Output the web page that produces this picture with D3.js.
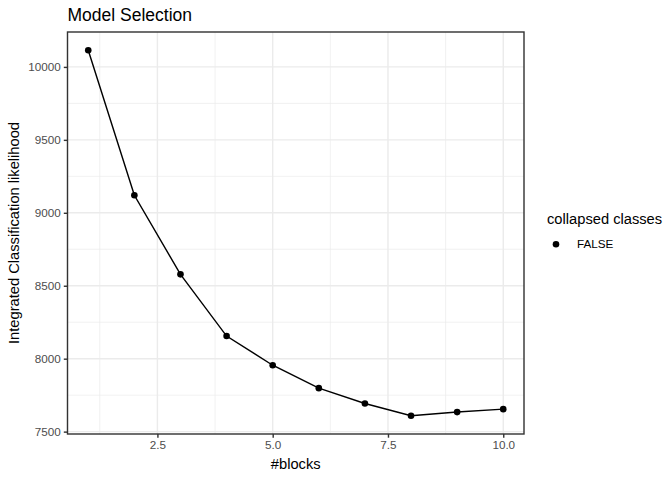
<!DOCTYPE html>
<html><head><meta charset="utf-8">
<script src="https://cdn.jsdelivr.net/npm/d3@7"></script>
<style>body{margin:0;background:#fff}text{font-family:"Liberation Sans",Arial,sans-serif}</style>
</head><body><svg id="c" width="672" height="480"></svg>
<script>
const blocks = [1,2,3,4,5,6,7,8,9,10];
const icl = [10114,9120,8578,8155,7955,7798,7693,7609,7634,7654];
const xTicks = [2.5,5.0,7.5,10.0];
const yTicks = [7500,8000,8500,9000,9500,10000];
const xMinor = [1.25,3.75,6.25,8.75];
const yMinor = [7750,8250,8750,9250,9750];
const legendLabels = ["FALSE"];

const svg = d3.select("#c");
const L=67.5, R=524, T=32, B=434;
const xr = d3.extent(blocks), yr = d3.extent(icl);
const xe=(xr[1]-xr[0])*0.05, ye=(yr[1]-yr[0])*0.05;
const x = d3.scaleLinear().domain([xr[0]-xe, xr[1]+xe]).range([L,R]);
const y = d3.scaleLinear().domain([yr[0]-ye, yr[1]+ye]).range([B,T]);

const g = svg.append("g");
// minor grid
g.selectAll(".xm").data(xMinor).enter().append("line")
 .attr("x1",d=>x(d)).attr("x2",d=>x(d)).attr("y1",T).attr("y2",B)
 .attr("stroke","#EBEBEB").attr("stroke-width",0.71);
g.selectAll(".ym").data(yMinor).enter().append("line")
 .attr("y1",d=>y(d)).attr("y2",d=>y(d)).attr("x1",L).attr("x2",R)
 .attr("stroke","#EBEBEB").attr("stroke-width",0.71);
// major grid
g.selectAll(".xM").data(xTicks).enter().append("line")
 .attr("x1",d=>x(d)).attr("x2",d=>x(d)).attr("y1",T).attr("y2",B)
 .attr("stroke","#EBEBEB").attr("stroke-width",1.42);
g.selectAll(".yM").data(yTicks).enter().append("line")
 .attr("y1",d=>y(d)).attr("y2",d=>y(d)).attr("x1",L).attr("x2",R)
 .attr("stroke","#EBEBEB").attr("stroke-width",1.42);

// line + points
const line = d3.line().x((d,i)=>x(blocks[i])).y(d=>y(d));
g.append("path").datum(icl).attr("d",line).attr("fill","none").attr("stroke","#000").attr("stroke-width",1.42);
g.selectAll(".pt").data(icl).enter().append("circle")
 .attr("cx",(d,i)=>x(blocks[i])).attr("cy",d=>y(d)).attr("r",3.3).attr("fill","#000");

// border
g.append("rect").attr("x",L).attr("y",T).attr("width",R-L).attr("height",B-T)
 .attr("fill","none").attr("stroke","#333333").attr("stroke-width",1.42);

// axes
const xa = svg.append("g").attr("transform",`translate(0,${B})`)
 .call(d3.axisBottom(x).tickValues(xTicks).tickFormat(d3.format(".1f")).tickSize(3.7).tickPadding(3));
const ya = svg.append("g").attr("transform",`translate(${L},0)`)
 .call(d3.axisLeft(y).tickValues(yTicks).tickFormat(d=>String(d)).tickSize(3.7).tickPadding(3));
[xa,ya].forEach(a=>{
 a.select(".domain").remove();
 a.selectAll("line").attr("stroke","#333333").attr("stroke-width",1.42);
 a.selectAll("text").attr("fill","#4D4D4D").style("font-size","11.7px").style("font-family","'Liberation Sans',Arial,sans-serif");
});

// titles
svg.append("text").attr("x",L).attr("y",21).text("Model Selection").style("font-size","17.5px").attr("fill","#000");
svg.append("text").attr("x",(L+R)/2).attr("y",468.5).attr("text-anchor","middle").text("#blocks").style("font-size","14.7px");
svg.append("text").attr("transform",`translate(19,${(T+B)/2}) rotate(-90)`).attr("text-anchor","middle")
 .text("Integrated Classification likelihood").style("font-size","14.7px");

// legend
svg.append("text").attr("x",547).attr("y",223.5).text("collapsed classes").style("font-size","14.7px");
const lg = svg.selectAll(".lg").data(legendLabels).enter().append("g");
lg.append("circle").attr("cx",556).attr("cy",(d,i)=>244.3+i*20).attr("r",3.3).attr("fill","#000");
lg.append("text").attr("x",577).attr("y",(d,i)=>248.3+i*20).text(d=>d).style("font-size","11.7px").attr("fill","#000");
</script></body></html>
